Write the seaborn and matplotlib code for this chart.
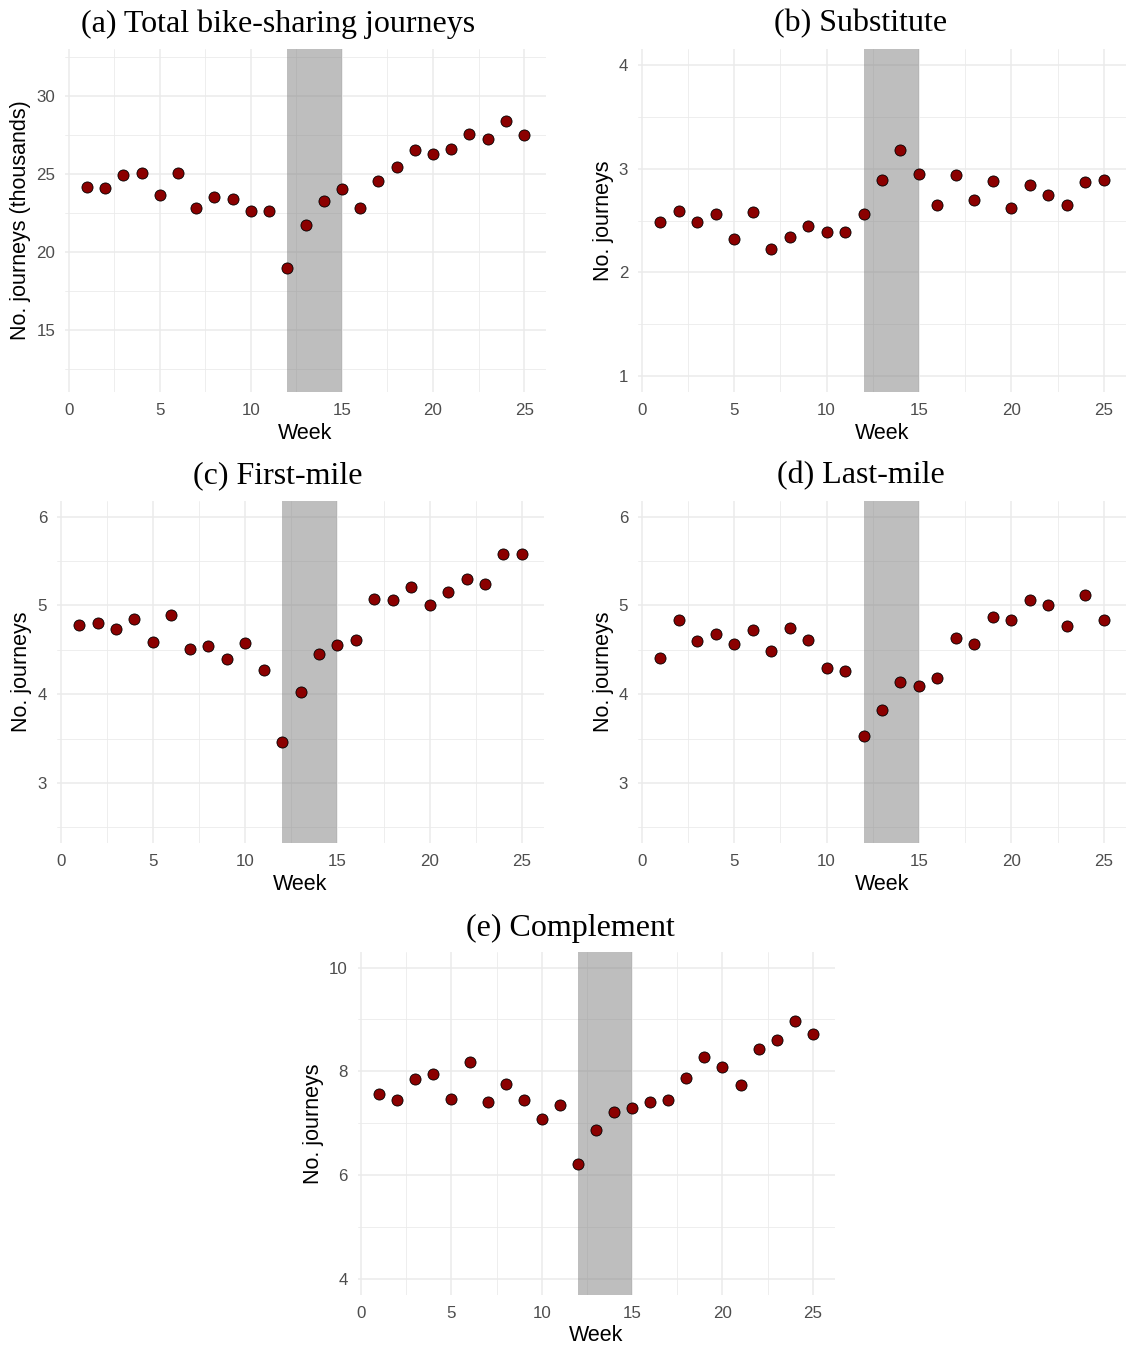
import numpy as np
import pandas as pd
import matplotlib
matplotlib.use("Agg")
import matplotlib.pyplot as plt
import seaborn as sns
from matplotlib.ticker import MultipleLocator

# ---------------- data ----------------
weeks = list(range(1, 26))
total_thousands = [24.13, 24.10, 24.90, 25.02, 23.66, 25.02, 22.78, 23.50, 23.40, 22.61,
                   22.61, 18.93, 21.70, 23.26, 24.04, 22.81, 24.51, 25.45, 26.49, 26.28,
                   26.60, 27.56, 27.24, 28.41, 27.47]
substitute = [2.49, 2.59, 2.49, 2.56, 2.32, 2.585, 2.225, 2.345, 2.45, 2.385,
              2.385, 2.56, 2.89, 3.18, 2.95, 2.65, 2.94, 2.70, 2.88, 2.62,
              2.84, 2.75, 2.65, 2.875, 2.89]
first_mile = [4.78, 4.80, 4.73, 4.85, 4.59, 4.89, 4.51, 4.54, 4.40, 4.58,
              4.27, 3.46, 4.03, 4.45, 4.55, 4.61, 5.07, 5.06, 5.21, 5.00,
              5.15, 5.30, 5.24, 5.58, 5.58]
last_mile = [4.41, 4.84, 4.60, 4.68, 4.57, 4.72, 4.49, 4.745, 4.61, 4.30,
             4.26, 3.535, 3.82, 4.14, 4.09, 4.18, 4.63, 4.57, 4.865, 4.835,
             5.06, 5.00, 4.77, 5.12, 4.83]
complement = [7.56, 7.45, 7.85, 7.94, 7.46, 8.18, 7.40, 7.76, 7.45, 7.09,
              7.35, 6.21, 6.87, 7.22, 7.30, 7.40, 7.45, 7.87, 8.28, 8.09,
              7.74, 8.44, 8.60, 8.97, 8.72]
shade_start, shade_end = 12, 15

titles = ["(a) Total bike-sharing journeys", "(b) Substitute", "(c) First-mile",
          "(d) Last-mile", "(e) Complement"]
ylabels = ["No. journeys (thousands)", "No. journeys", "No. journeys",
           "No. journeys", "No. journeys"]
x_ticks = [0, 5, 10, 15, 20, 25]
y_limits_data = [(12, 32), (1, 4), (2.5, 6), (2.5, 6), (4, 10)]
y_major_steps = [5, 1, 1, 1, 2]
series = [total_thousands, substitute, first_mile, last_mile, complement]

# ---------------- style ----------------
sns.set_theme(style="white")
plt.rcParams["font.family"] = ["Liberation Sans", "DejaVu Sans"]

W, H = 1126, 1346
fig = plt.figure(figsize=(W / 100, H / 100), dpi=100)
fig.patch.set_facecolor("white")

def add_ax(l, t, r, b):
    return fig.add_axes([l / W, 1 - b / H, (r - l) / W, (b - t) / H])

# layout in pixels: axes rect (l, t, r, b), title centre, ylabel x centre
layout = [
    dict(rect=(65, 49, 546, 392), title=(278, 24), ylab_x=21),
    dict(rect=(638, 49, 1126, 392), title=(861, 24), ylab_x=604),
    dict(rect=(57, 501, 544, 843), title=(278, 476), ylab_x=22),
    dict(rect=(638, 501, 1126, 843), title=(861, 476), ylab_x=604),
    dict(rect=(357.5, 952, 834.5, 1294.5), title=(570, 928), ylab_x=313),
]

xmin_d, xmax_d = 1, 25
xpad = 0.05 * (xmax_d - xmin_d)

for i, lay in enumerate(layout):
    l, t, r, b = lay["rect"]
    ax = add_ax(l, t, r, b)
    df = pd.DataFrame({"Week": weeks, "value": series[i]})

    ax.axvspan(shade_start, shade_end, facecolor="#7F7F7F", alpha=0.5, lw=0, zorder=1.5)
    sns.scatterplot(data=df, x="Week", y="value", ax=ax, color="#8B0000",
                    edgecolor="black", s=64, linewidth=0.6, zorder=3, legend=False)

    ylo, yhi = y_limits_data[i]
    ypad = 0.05 * (yhi - ylo)
    ax.set_xlim(xmin_d - xpad, xmax_d + xpad)
    ax.set_ylim(ylo - ypad, yhi + ypad)

    step = y_major_steps[i]
    ax.set_xticks(x_ticks)
    ax.xaxis.set_minor_locator(MultipleLocator(2.5))
    ax.yaxis.set_major_locator(MultipleLocator(step))
    ax.yaxis.set_minor_locator(MultipleLocator(step / 2))

    ax.set_axisbelow(True)
    ax.grid(which="major", color="#EBEBEB", linewidth=1.1)
    ax.grid(which="minor", color="#EBEBEB", linewidth=0.6)
    for sp in ax.spines.values():
        sp.set_visible(False)
    ax.tick_params(which="both", length=0)
    ax.tick_params(axis="x", pad=8, labelsize=12.2, labelcolor="#4D4D4D")
    ax.tick_params(axis="y", pad=7, labelsize=12.2, labelcolor="#4D4D4D")

    ax.set_xlabel("Week", fontsize=15.5, color="black")
    ax.xaxis.set_label_coords(0.5, -(41.0) / (b - t))
    ax.xaxis.label.set_va("center")
    ax.set_ylabel(ylabels[i], fontsize=15.5, color="black")
    ax.yaxis.set_label_coords(-(l - lay["ylab_x"]) / (r - l), 0.5)
    ax.yaxis.label.set_va("center")

    tx, ty = lay["title"]
    fig.text(tx / W, 1 - ty / H, titles[i], ha="center", va="center",
             fontsize=23, family=["Liberation Serif", "DejaVu Serif"], color="black")

fig.savefig("out.png", dpi=100, facecolor="white")
